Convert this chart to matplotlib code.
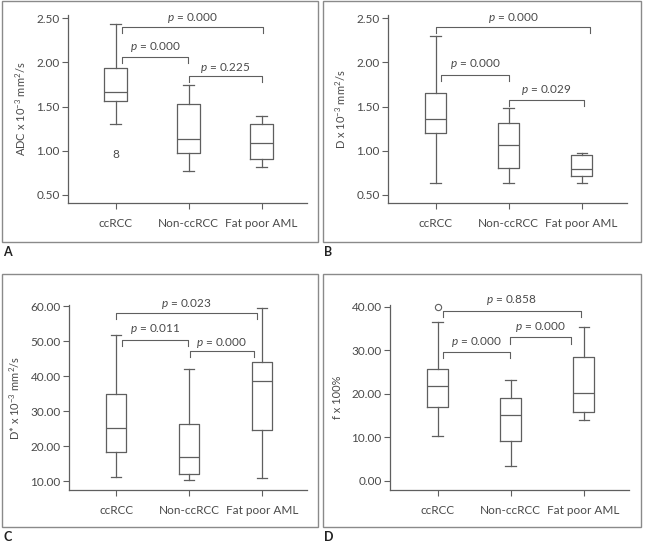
import numpy as np
import matplotlib
matplotlib.use('Agg')
import matplotlib.pyplot as plt
from matplotlib.patches import Rectangle

plt.rcParams['font.family'] = ['Lato', 'DejaVu Sans']
plt.rcParams['mathtext.fontset'] = 'custom'
plt.rcParams['mathtext.rm'] = 'Lato'
plt.rcParams['mathtext.it'] = 'Lato:italic'

# ---------------------------------------------------------
# Datos (min, Q1, mediana, Q3, max)
# ---------------------------------------------------------
grupos = ['ccRCC', 'Non-ccRCC', 'Fat poor AML']

adc_min = [1.30, 0.77, 0.82]
adc_q1 = [1.56, 0.97, 0.91]
adc_med = [1.66, 1.13, 1.09]
adc_q3 = [1.94, 1.53, 1.30]
adc_max = [2.43, 1.75, 1.39]

d_min = [0.63, 0.63, 0.63]
d_q1 = [1.205, 0.81, 0.71]
d_med = [1.36, 1.06, 0.79]
d_q3 = [1.655, 1.32, 0.95]
d_max = [2.30, 1.48, 0.98]

dstar_min = [11.05, 10.3, 10.76]
dstar_q1 = [18.2, 12.0, 24.7]
dstar_med = [25.05, 16.95, 38.5]
dstar_q3 = [34.76, 26.4, 44.0]
dstar_max = [51.7, 42.0, 59.3]

f_min = [10.34, 3.37, 13.87]
f_q1 = [17.0, 9.27, 15.86]
f_med = [21.76, 15.17, 20.08]
f_q3 = [25.6, 19.0, 28.5]
f_max = [36.55, 23.07, 35.25]
f_outlier = [40.0]

# comparaciones: extremos x, altura del corchete, altura de la etiqueta
p_adc = ['p = 0.000', 'p = 0.000', 'p = 0.225']
p_d = ['p = 0.000', 'p = 0.000', 'p = 0.029']
p_dstar = ['p = 0.023', 'p = 0.011', 'p = 0.000']
p_f = ['p = 0.858', 'p = 0.000', 'p = 0.000']

br_adc_x = [(1.09, 3.02), (1.09, 1.99), (2.01, 3.0)]
br_adc_y = [2.40, 2.06, 1.85]
lab_adc_y = [2.50, 2.17, 1.94]

br_d_x = [(1.0, 3.12), (1.08, 2.0), (2.01, 3.03)]
br_d_y = [2.40, 1.86, 1.58]
lab_d_y = [2.50, 1.98, 1.69]

br_dstar_x = [(1.0, 2.93), (1.08, 1.99), (2.01, 2.89)]
br_dstar_y = [57.9, 50.3, 47.1]
lab_dstar_y = [60.5, 53.3, 49.5]

br_f_x = [(1.07, 2.96), (1.07, 1.99), (1.99, 2.83)]
br_f_y = [39.08, 29.65, 32.95]
lab_f_y = [41.5, 31.95, 35.4]

gris = '#5f5f5f'
texto = '#4a4a4a'
W, H = 645, 545

fig = plt.figure(figsize=(W / 100, H / 100), dpi=100)


def ejes(x0, x1, y0, y1):
    # coordenadas en pixeles (y desde arriba)
    return fig.add_axes([x0 / W, 1 - y1 / H, (x1 - x0) / W, (y1 - y0) / H])


def panel(ax, mins, q1s, meds, q3s, maxs, ylim, ticks, ylabel,
          br_x, br_y, lab_y, pvals, drop, ancho=0.28):
    stats = []
    for i in range(3):
        stats.append(dict(whislo=mins[i], q1=q1s[i], med=meds[i],
                          q3=q3s[i], whishi=maxs[i], fliers=[]))
    lp = dict(color=gris, linewidth=0.9)
    ax.bxp(stats, positions=[1, 2, 3], widths=ancho, showfliers=False,
           boxprops=lp, medianprops=lp, whiskerprops=lp, capprops=lp,
           capwidths=ancho * 0.5)
    for (xa, xb), y, ly, p in zip(br_x, br_y, lab_y, pvals):
        ax.plot([xa, xa, xb, xb], [y - drop, y, y, y - drop],
                color=gris, linewidth=0.8, clip_on=False)
        ax.text((xa + xb) / 2, ly, '$p$' + p[1:], ha='center', va='center',
                fontsize=8.5, color=texto)
    ax.set_xlim(0.35, 3.62)
    ax.set_ylim(*ylim)
    ax.set_yticks(ticks)
    ax.set_yticklabels(['%.2f' % t for t in ticks])
    ax.set_xticks([1, 2, 3])
    ax.set_xticklabels(grupos)
    ax.set_ylabel(ylabel, fontsize=8, color=texto, labelpad=6)
    for s in ['top', 'right']:
        ax.spines[s].set_visible(False)
    for s in ['left', 'bottom']:
        ax.spines[s].set_color(gris)
        ax.spines[s].set_linewidth(0.9)
    ax.tick_params(direction='out', length=4, width=0.8, color=gris,
                   labelsize=8.5, labelcolor=texto, pad=2)
    ax.tick_params(axis='x', pad=7)


axA = ejes(68, 307, 15, 203)
panel(axA, adc_min, adc_q1, adc_med, adc_q3, adc_max, (0.409, 2.537),
      [0.5, 1.0, 1.5, 2.0, 2.5], 'ADC x 10$^{-3}$ mm$^{2}$/s',
      br_adc_x, br_adc_y, lab_adc_y, p_adc, 0.07, ancho=0.31)
axA.text(1, 0.96, '8', ha='center', va='center', fontsize=8.5, color=texto)

axB = ejes(388, 627, 15, 203)
panel(axB, d_min, d_q1, d_med, d_q3, d_max, (0.409, 2.537),
      [0.5, 1.0, 1.5, 2.0, 2.5], 'D x 10$^{-3}$ mm$^{2}$/s',
      br_d_x, br_d_y, lab_d_y, p_d, 0.07)

axC = ejes(69, 307, 305, 490)
panel(axC, dstar_min, dstar_q1, dstar_med, dstar_q3, dstar_max, (7.43, 60.3),
      [10, 20, 30, 40, 50, 60], 'D* x 10$^{-3}$ mm$^{2}$/s',
      br_dstar_x, br_dstar_y, lab_dstar_y, p_dstar, 1.7)

axD = ejes(390, 629, 305, 490)
panel(axD, f_min, f_q1, f_med, f_q3, f_max, (-2.1, 40.4),
      [0, 10, 20, 30, 40], 'f x 100%',
      br_f_x, br_f_y, lab_f_y, p_f, 1.4)
axD.plot([1] * len(f_outlier), f_outlier, 'o', mfc='white', mec=gris,
         markersize=4.5, markeredgewidth=0.8, clip_on=False)

# marcos y letras de cada panel
marcos = [(2, 318, 1, 242), (323, 641, 1, 242), (2, 318, 274, 527), (323, 641, 274, 527)]
letras = ['A', 'B', 'C', 'D']
for (x0, x1, y0, y1), letra in zip(marcos, letras):
    fig.add_artist(Rectangle((x0 / W, 1 - y1 / H), (x1 - x0) / W, (y1 - y0) / H,
                             transform=fig.transFigure, fill=False,
                             edgecolor='#8a8a8a', linewidth=1.0))
    fig.text((x0 + 1) / W, 1 - (y1 + 10) / H, letra, fontsize=9,
             fontweight='bold', ha='left', va='center', color='#222222')

fig.savefig('out.png', dpi=100)
